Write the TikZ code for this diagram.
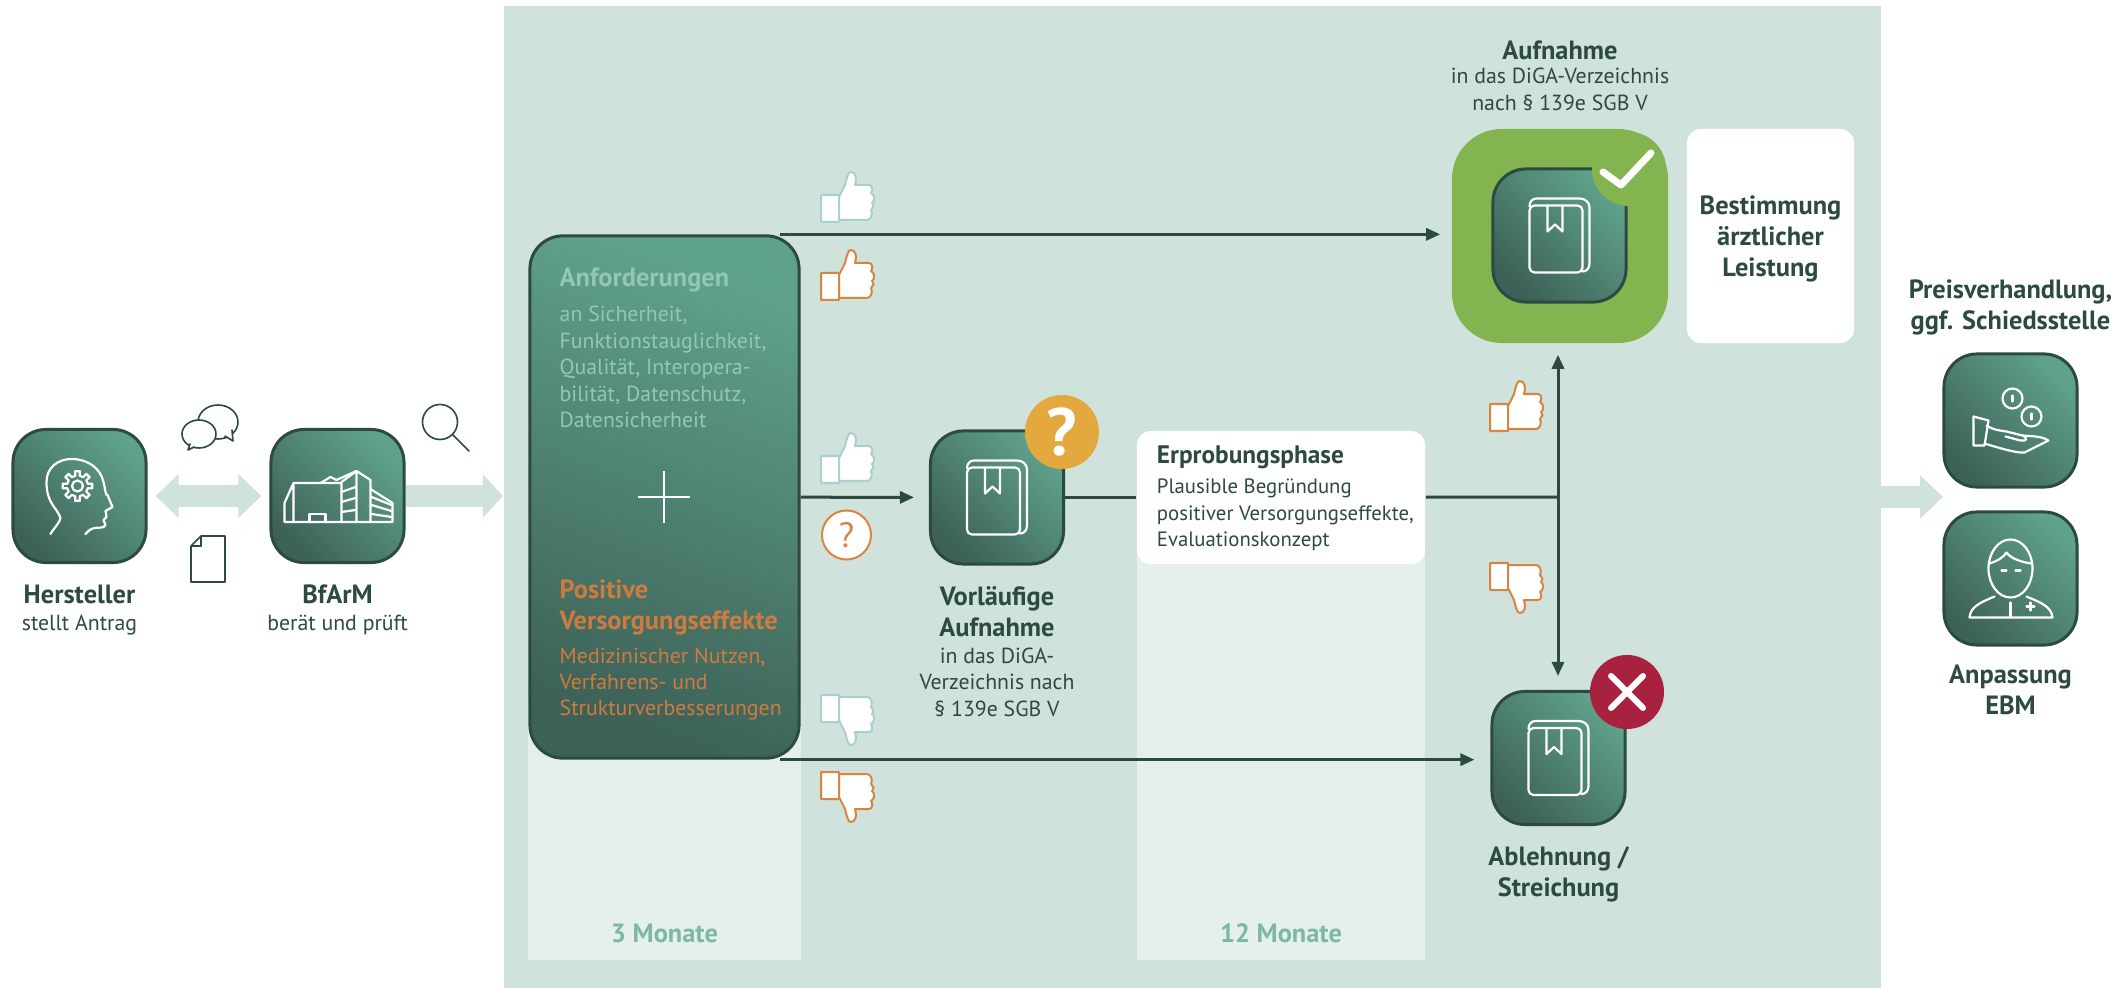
\documentclass[tikz,border=0pt]{standalone}
\usepackage{fontspec}
\setmainfont{PT Sans}
\usetikzlibrary{positioning}
\usetikzlibrary{arrows.meta}
\definecolor{panelgreen}{HTML}{CFE2DC}
\definecolor{colgreen}{HTML}{E5F0EB}
\definecolor{boxlight}{HTML}{5FA28B}
\definecolor{boxdark}{HTML}{3D6157}
\definecolor{inkgreen}{HTML}{2C4A42}
\definecolor{leafgreen}{HTML}{84B450}
\definecolor{thumbblue}{HTML}{A9CFD0}
\definecolor{thumborange}{HTML}{D9853F}
\definecolor{tealtxt}{HTML}{93C6B8}
\definecolor{orangetxt}{HTML}{CF7B3F}
\definecolor{montxt}{HTML}{7DB7A8}
\definecolor{goldq}{HTML}{E3A93F}
\definecolor{redx}{HTML}{A8213F}
\tikzset{
    appbox/.style = {rectangle, rounded corners=.33cm, draw=inkgreen, line width=.03cm, minimum size=1.33cm,
      top color=boxlight, bottom color=boxdark, shading angle=-45},
    whitebox/.style = {rectangle, rounded corners=.14cm, fill=white, inner sep=0pt},
    colbox/.style = {rectangle, fill=colgreen, inner sep=0pt, anchor=south},
    headtxt/.style = {align=center, inner sep=0pt, text=inkgreen, font=\bfseries\fontsize{7.5}{8.8}\selectfont},
    bodytxt/.style = {align=center, inner sep=0pt, text=inkgreen, font=\fontsize{6.2}{7.5}\selectfont},
    montxtn/.style = {text=montxt, font=\bfseries\fontsize{7.5}{8}\selectfont},
    bigarrow/.style = {panelgreen, line width=.21cm},
    edgen/.style = {-{Triangle[width=.12cm,length=.14cm]}, inkgreen, line width=.03cm},
    iconw/.style = {draw=white, line width=.022cm, line join=round, line cap=round},
    icond/.style = {draw=inkgreen, line width=.016cm, line join=round, line cap=round},
    thumb/.pic = {
      \path[pic actions, fill=white, line width=.02cm, line join=round, shift={(-27,-26)}]
        (0,24) rectangle (18,51)
        (18,26) -- (24,14) .. controls (26,6) and (27,1) .. (30,1) .. controls (35,1) and (36,8) .. (34,14) -- (48,14)
        .. controls (52,14) and (52,20) .. (50,22) .. controls (54,24) and (54,30) .. (51,32)
        .. controls (53,35) .. (50,39) .. controls (52,43) and (50,49) .. (46,49) -- (18,49);
    },
    book/.pic = {
      \draw[iconw, rounded corners=.05cm] (-30,-30) rectangle (23,37);
      \draw[iconw] (-30,-29) .. controls (-30,-34) and (-27,-37) .. (-23,-37) -- (20,-37)
        .. controls (26,-37) and (30,-33) .. (30,-28) -- (30,28) .. controls (30,33) and (27,36) .. (23,36);
      \draw[iconw] (-12,-30) -- (-12,-4) -- (-4.5,-11) -- (3,-4) -- (3,-30);
    },
    head/.pic = {
      \draw[iconw] (-29,38) .. controls (-24,30) and (-20,27) .. (-19,22) .. controls (-22,12) and (-33,8) .. (-33,-14)
        .. controls (-33,-28) and (-22,-37) .. (-8,-37) .. controls (8,-37) and (21,-28) .. (24,-14)
        .. controls (26,-6) and (26,0) .. (28,-1) -- (33,11) -- (26,15) -- (27,21) -- (24,24) -- (26,29)
        .. controls (24,33) and (19,31) .. (15,32) .. controls (11,33) and (8,35) .. (6,38);
      \draw[iconw, shift={(-2,-10)}] (-12:10.5) \foreach \a in {0,45,...,315} { -- (\a-12:10.5) -- (\a-9:15) -- (\a+9:15) -- (\a+12:10.5) } -- cycle;
      \draw[iconw] (-2,-10) circle (5.5);
    },
    factory/.pic = {
      \draw[iconw] (-53,7) -- (-44,-13) -- (4,-13) -- (4,26) -- (-53,26) -- cycle (-44,-13) -- (-44,26);
      \draw[iconw] (-28,26) -- (-28,18) -- (-12,18) -- (-12,26);
      \draw[iconw] (4,-14) -- (19,-25) -- (33,-16) -- (33,26) -- (4,26) (19,-25) -- (19,26);
      \draw[iconw] (4,-4) -- (18,-9) (4,6) -- (18,2) (4,16) -- (18,14);
      \draw[iconw] (-17,-13) -- (-7,-19) -- (-1,-16) -- (19,-25);
      \draw[iconw] (33,-7) -- (55,7) -- (55,26) -- (33,26);
      \draw[iconw] (34,1) -- (54,9) (34,9) -- (54,15) (34,18) -- (54,21);
    },
    coinhand/.pic = {
      \draw[iconw] (2,-22) circle (10) (21,-4) circle (10);
      \draw[iconw] (2,-25) -- (2,-19) (21,-7) -- (21,-1);
      \draw[iconw] (-37,-4) -- (-22,0) -- (-26,25) -- (-37,25) -- cycle;
      \draw[iconw] (-24,5) .. controls (-16,10) and (-10,10) .. (-4,11) -- (12,15) .. controls (20,16) and (30,15) .. (38,20)
        -- (14,32) .. controls (8,33) and (-10,28) .. (-26,23);
      \draw[iconw] (12,15) .. controls (18,18) and (16,21) .. (10,20) -- (-5,16);
    },
    doctor/.pic = {
      \draw[iconw] (0,-10) ellipse (22 and 29);
      \draw[iconw] (-21,-15) .. controls (-14,-17) and (-7,-21) .. (-4,-26) .. controls (0,-20) and (12,-16) .. (21,-15);
      \draw[iconw] (-9,-8) -- (-4,-8) (5,-8) -- (10,-8);
      \draw[iconw] (-41,39) .. controls (-40,28) and (-30,24) .. (-16,18) (16,18) .. controls (30,24) and (41,28) .. (42,39) -- (-41,39);
      \draw[iconw] (0,24) -- (0,39) (16,28) -- (24,28) (20,24) -- (20,32);
    }
}
\begin{document}
\begin{tikzpicture}[x=.01cm, y=-.01cm]
  \useasboundingbox (0,0) rectangle (2120,988);
  % panel and the two time columns
  \node[rectangle, fill=panelgreen, inner sep=0pt, minimum width=13.76cm, minimum height=9.83cm, anchor=north west] (panel) at (503,5) {};
  \node[colbox, minimum width=2.73cm, minimum height=2.6cm] (col3) at (664.5,961) {};
  \node[colbox, minimum width=2.88cm, minimum height=4.6cm] (col12) at (1281,961) {};
  \node[montxtn] at (664.5,933) {3 Monate};
  \node[montxtn] at (1281,933) {12 Monate};
  % boxes
  \node[appbox] (hersteller) at (79.5,496) {};
  \node[appbox] (bfarm) at (337.5,496) {};
  \node[appbox, minimum width=2.69cm, minimum height=5.22cm, shading angle=-20] (anf) at (664.5,497) {};
  \node[appbox] (vorl) at (997,497.5) {};
  \node[rectangle, rounded corners=.5cm, fill=leafgreen, minimum width=2.16cm, minimum height=2.14cm, inner sep=0pt] (aufn) at (1560,236) {};
  \node[appbox] (aufnbook) at (1559.5,235.5) {};
  \node[whitebox, minimum width=1.67cm, minimum height=2.14cm] (leistung) at (1770.5,236) {};
  \node[headtxt, yshift=-.03cm] at (leistung) {Bestimmung\\ärztlicher\\Leistung};
  \node[whitebox, minimum width=2.88cm, minimum height=1.33cm] (erprob) at (1281,497.5) {};
  \node[headtxt, font=\bfseries\fontsize{7.2}{8}\selectfont, anchor=west] (erprobname) at ([xshift=.2cm,yshift=.405cm]erprob.west) {Erprobungsphase};
  \node[bodytxt, font=\fontsize{5.9}{7.5}\selectfont, align=left, below=.09cm of erprobname.south west, anchor=north west] {Plausible Begründung\\positiver Versorgungseffekte,\\Evaluationskonzept};
  \node[appbox] (ablehn) at (1558.5,758) {};
  \node[appbox] (preis) at (2010.5,420.5) {};
  \node[appbox] (ebm) at (2010.5,578.5) {};
  \coordinate (mid) at (1558,497);
  \coordinate (priceend) at (1943,497);
  % connectors
  \draw[bigarrow, {Triangle[width=.42cm,length=.23cm]}-{Triangle[width=.42cm,length=.23cm]}, shorten <=.08cm, shorten >=.08cm] (hersteller) -- (bfarm);
  \draw[bigarrow, -{Triangle[width=.42cm,length=.2cm]}] (bfarm) -- (bfarm -| panel.west);
  \draw[bigarrow, -{Triangle[width=.42cm,length=.23cm]}] (panel.east |- priceend) -- (priceend);
  \draw[edgen, shorten >=.11cm] ([xshift=1.15cm]anf.north) -- (anf.north -| aufn.west);
  \draw[edgen, shorten >=.16cm] ([xshift=1.15cm]anf.south) -- (anf.south -| ablehn.west);
  \draw[edgen, shorten >=.15cm] (anf) -- (vorl);
  \draw[edgen, -] (vorl) -- (erprob);
  \draw[edgen, -] (erprob) -- (mid);
  \draw[edgen, shorten >=.11cm] (mid) -- (mid |- aufn.south);
  \draw[edgen, shorten >=.14cm] (mid) -- (mid |- ablehn.north);
  % badges
  \node[circle, fill=leafgreen, minimum size=.74cm, inner sep=0pt] (okbadge) at (1629,169) {};
  \draw[line width=.07cm, white, line cap=round, line join=round] (1603,172) -- (1621,185) -- (1651,153);
  \node[circle, fill=goldq, minimum size=.74cm, inner sep=0pt, text=white, font=\bfseries\fontsize{19}{19}\selectfont] (qbadge) at (1062,432) {?};
  \node[circle, fill=redx, minimum size=.74cm, inner sep=0pt] (xbadge) at (1627,692) {};
  \draw[line width=.06cm, white, line cap=round] (1611,676) -- (1643,708) (1611,708) -- (1643,676);
  \node[circle, fill=white, draw=thumborange, line width=.02cm, minimum size=.49cm, inner sep=0pt, text=thumborange, font=\fontsize{10}{10}\selectfont] (qmark) at (846.5,535) {?};
  % white icons
  \pic at (hersteller) {head};
  \pic at (bfarm) {factory};
  \foreach \n in {vorl,aufnbook,ablehn} \pic at (\n) {book};
  \pic at (preis) {coinhand};
  \pic at (ebm) {doctor};
  \draw[white, line width=.018cm] (638,497) -- (690,497) (664,471) -- (664,523);
  % thumbs
  \foreach \tx/\ty/\ts/\tc in {848/197/1/thumbblue, 848/275/1/thumborange, 848/458/1/thumbblue, 848/720/-1/thumbblue,
    848/797/-1/thumborange, 1517/406/1/thumborange, 1517/588/-1/thumborange}
    \pic[draw=\tc, yscale=\ts] at (\tx,\ty) {thumb};
  % dark small icons
  \draw[icond] (218,422) ellipse (20 and 17);
  \draw[icond, fill=white] (225,436) -- (233,441) -- (232,430);
  \draw[icond, fill=white] (199,434) ellipse (17 and 14);
  \draw[icond, fill=white] (194,447) -- (188,450) -- (190,444);
  \draw[icond] (201,536) -- (225,536) -- (225,582) -- (191,582) -- (191,546) -- cycle (201,536) -- (201,546) -- (191,546);
  \draw[icond] (440,422) circle (17.5) (453,435) -- (469,451);
  % texts
  \node[headtxt, below=.2cm of hersteller] (herstname) {Hersteller};
  \node[bodytxt, below=.1cm of herstname] {stellt Antrag};
  \node[headtxt, below=.2cm of bfarm] (bfarmname) {BfArM};
  \node[bodytxt, below=.1cm of bfarmname] {berät und prüft};
  \node[headtxt, text=tealtxt, anchor=west] at (559,280) {Anforderungen};
  \node[bodytxt, text=tealtxt, align=left, anchor=west] at (559,367) {an Sicherheit,\\Funktionstauglichkeit,\\Qualität, Interopera-\\bilität, Datenschutz,\\Datensicherheit};
  \node[headtxt, text=orangetxt, align=left, anchor=west] at (559,607) {Positive\\Versorgungseffekte};
  \node[bodytxt, text=orangetxt, align=left, anchor=west] at (559,684) {Medizinischer Nutzen,\\Verfahrens- und\\Strukturverbesserungen};
  \node[headtxt, below=.2cm of vorl] (vorlname) {Vorläufige\\Aufnahme};
  \node[bodytxt, below=.1cm of vorlname] {in das DiGA-\\Verzeichnis nach\\§ 139e SGB V};
  \node[bodytxt, above=.17cm of aufn] (aufnbody) {in das DiGA-Verzeichnis\\nach § 139e SGB V};
  \node[headtxt, above=.07cm of aufnbody] {Aufnahme};
  \node[headtxt, below=.2cm of ablehn] {Ablehnung /\\Streichung};
  \node[headtxt, above=.17cm of preis] {Preisverhandlung,\\ggf. Schiedsstelle};
  \node[headtxt, below=.18cm of ebm] {Anpassung\\EBM};
\end{tikzpicture}
\end{document}
